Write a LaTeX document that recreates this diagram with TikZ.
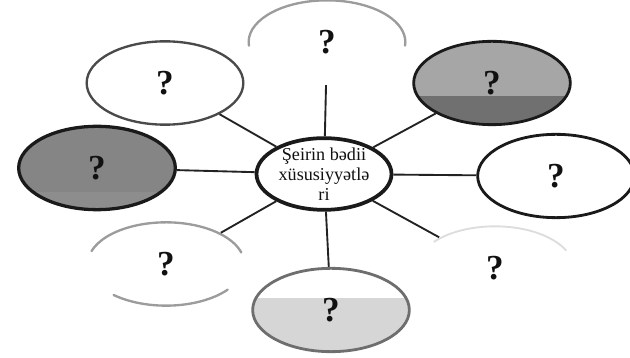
\documentclass[tikz,border=0pt]{standalone}
\usepackage{fontspec}
\setmainfont{Liberation Serif}
\usetikzlibrary{
  positioning,
  shapes.geometric,
}
\definecolor{border}{HTML}{1A1A1A}
\definecolor{borderSoft}{HTML}{4A4A4A}
\definecolor{fadeLine}{HTML}{9C9C9C}
\definecolor{faintLine}{HTML}{DDDDDD}
\definecolor{fillDark}{HTML}{858585}
\definecolor{fillDeep}{HTML}{707070}
\definecolor{fillMid}{HTML}{A6A6A6}
\definecolor{fillLight}{HTML}{D6D6D6}
\definecolor{spokeCol}{HTML}{222222}
\definecolor{textCol}{HTML}{111111}
\tikzset{
  hub/.style={
    ellipse, draw=border, fill=white, line width=3.2pt,
    minimum width=4.05cm, minimum height=2.15cm, align=center,
    font=\fontsize{15.5}{17}\selectfont, text=textCol,
    inner xsep=0pt, inner ysep=-7pt,
  },
  petal/.style={
    ellipse, draw=border, fill=white, line width=2.4pt,
    minimum width=4.7cm, minimum height=2.5cm,
    font=\fontsize{30}{32}\selectfont\bfseries, text=textCol, inner sep=0pt,
  },
  ghost/.style={
    petal, draw=none, fill=none,
  },
  lowshade/.style 2 args={
    path picture={\fill[#1] ([yshift=#2]path picture bounding box.west)
      rectangle (path picture bounding box.south east);},
  },
  spoke/.style={draw=spokeCol, line width=1.6pt},
  fadearc/.style={draw=fadeLine, line width=2pt, line cap=round},
  faintarc/.style={draw=faintLine, line width=1.6pt, line cap=round},
}

\begin{document}
\begin{tikzpicture}

  \useasboundingbox (0, 0) rectangle (18.9, 10.74);

  % Centre
  \node[hub] (hub) at (9.72, 5.52) {Şeirin bədii\\xüsusiyyətlə\\ri};

  % Petals
  \node[ghost] (qTop) at (9.81, 9.48) {?};
  \node[petal, draw=borderSoft, line width=2pt] (qTopL) at (4.95, 8.25) {?};
  \node[petal, fill=fillMid, lowshade={fillDeep}{-0.4cm}] (qTopR) at (14.76, 8.25) {?};
  \node[petal, fill=fillDark, lowshade={fillDeep!80}{-0.72cm}, line width=2.8pt] (qLeft) at (2.91, 5.70) {?};
  \node[petal] (qRight) at (16.68, 5.46) {?};
  \node[ghost] (qBotL) at (4.98, 2.82) {?};
  \node[ghost] (qBotR) at (14.85, 2.70) {?};
  \node[petal, draw=borderSoft!80, lowshade={fillLight}{0.35cm}] (qBot) at (9.93, 1.44) {?};

  % faded outlines
  \draw[fadearc] ([shift={(185:2.35cm and 1.25cm)}]qTop.center)
    arc[start angle=185, end angle=-5, x radius=2.35cm, y radius=1.25cm];
  \draw[fadearc] ([shift={(162:2.35cm and 1.25cm)}]qBotL.center)
    arc[start angle=162, end angle=16, x radius=2.35cm, y radius=1.25cm];
  \draw[fadearc] ([shift={(228:2.35cm and 1.25cm)}]qBotL.center)
    arc[start angle=228, end angle=322, x radius=2.35cm, y radius=1.25cm];
  \draw[faintarc] ([shift={(141:2.35cm and 1.25cm)}]qBotR.center)
    arc[start angle=141, end angle=25, x radius=2.35cm, y radius=1.25cm];

  % Spokes
  \draw[spoke] (hub) -- (qTop);
  \draw[spoke] (hub) -- (qTopL);
  \draw[spoke] (hub) -- (qTopR);
  \draw[spoke] (hub) -- (qLeft);
  \draw[spoke] (hub) -- (qRight);
  \draw[spoke] (hub) -- (qBotL);
  \draw[spoke] (hub) -- (qBotR);
  \draw[spoke] (hub) -- (qBot);

\end{tikzpicture}
\end{document}
